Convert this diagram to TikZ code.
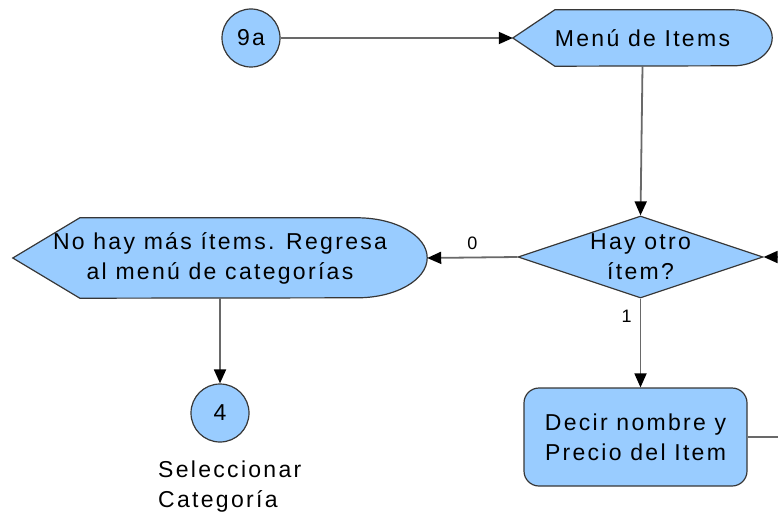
\documentclass[tikz,border=0pt]{standalone}
\usepackage{fontspec}
\setmainfont{Liberation Sans}[LetterSpace=10]
\usepackage{tikz}
\usetikzlibrary{shapes.geometric,arrows.meta,positioning,backgrounds}

\definecolor{boxblue}{RGB}{153,204,255}
\definecolor{edgegray}{RGB}{55,55,55}
\definecolor{linegray}{RGB}{105,105,105}

\tikzset{
  box/.style={draw=edgegray,fill=boxblue,line width=1.2pt,font=\fontsize{23}{30}\selectfont,align=center},
  conn/.style={circle,box,minimum size=58pt,inner sep=0pt},
  flow/.style={draw=linegray,line width=1.8pt,-{Triangle[length=14pt,width=12pt,color=black]}},
  lbl/.style={font=\fontsize{18}{20}\selectfont,inner sep=0pt}
}
% display shape drawn round a plain node
\newcommand{\dispshape}[4]{%
  \draw[box] (#1.west) -- ([xshift=#2]#1.north west) -- ([xshift=-#3]#1.north east)
    arc[start angle=90,end angle=-90,x radius=#3,y radius=#4]
    -- ([xshift=#2]#1.south west) -- cycle;}

\begin{document}
\begin{tikzpicture}[x=1pt,y=-1pt]
  \useasboundingbox (0,0) rectangle (778,516);
  \node[conn] (c9a) at (251,38) {9a};
  \node[minimum width=259pt,minimum height=56pt,inner sep=0pt,font=\fontsize{23}{30}\selectfont] (menu) at (642.5,38) {Menú de Items};
  \node[diamond,box,minimum width=245pt,minimum height=82pt,inner sep=0pt,aspect=3] (hay) at (640.5,257) {Hay otro\\ítem?};
  \node[minimum width=414pt,minimum height=80pt,inner sep=0pt,align=center,font=\fontsize{23}{30}\selectfont] (nohay) at (220,258) {No hay más ítems. Regresa\\al menú de categorías};
  \node[conn] (c4) at (220,413) {4};
  \node[anchor=north west,align=left,inner sep=0pt,font=\fontsize{23}{30}\selectfont] (sel) at (158,461) {Seleccionar\\Categoría};
  \node[rectangle,box,rounded corners=15pt,minimum width=223pt,minimum height=98pt] (decir) at (635.5,437) {Decir nombre y\\Precio del Item};
  \coordinate (inR) at (778,257);
  \coordinate (outR) at (778,437);
  % outlines behind the text
  \begin{scope}[on background layer]
    \dispshape{menu}{42pt}{39pt}{28pt}
    \dispshape{nohay}{67pt}{70pt}{40pt}
  \end{scope}
  \draw[flow] (c9a) -- (menu.west);
  \draw[flow] (menu.south) -- (hay.north);
  \draw[flow] (hay.west) -- node[lbl,above=7pt] {0} (nohay.east);
  \draw[flow] (inR) -- (hay.east);
  \draw[flow] (hay.south) -- node[lbl,pos=0.2,left=8pt] {1} (hay.south |- decir.north);
  \draw[flow] (nohay.south) -- (c4);
  \draw[draw=linegray,line width=1.8pt] (decir.east) -- (outR);
\end{tikzpicture}
\end{document}
